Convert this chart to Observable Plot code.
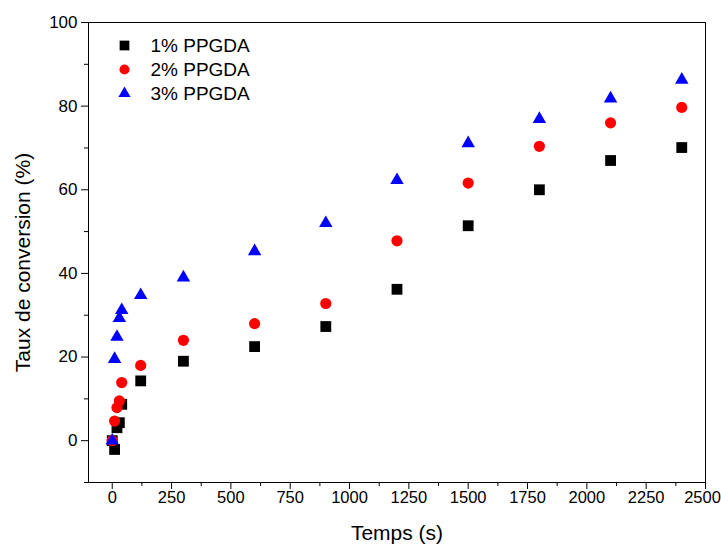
<!DOCTYPE html>
<html><head><meta charset="utf-8">
<script src="https://cdn.jsdelivr.net/npm/d3@7"></script>
<script src="https://cdn.jsdelivr.net/npm/@observablehq/plot@0.6"></script>
<style>
html,body{margin:0;padding:0;background:#fff}
#chart svg{display:block;font-family:"Liberation Sans",Arial,sans-serif}
</style>
</head><body><div id="chart"></div>
<script>
const times = [0, 10, 20, 30, 40, 120, 300, 600, 900, 1200, 1500, 1800, 2100, 2400];
const conv1 = [0, -2.1, 3.1, 4.3, 8.7, 14.3, 19.0, 22.5, 27.3, 36.2, 51.4, 60.0, 67.0, 70.1];
const conv2 = [0, 4.7, 7.9, 9.5, 13.9, 18.0, 24.0, 28.0, 32.8, 47.8, 61.6, 70.4, 76.0, 79.7];
const conv3 = [0, 19.5, 24.8, 29.3, 31.2, 34.8, 39.0, 45.3, 52.0, 62.3, 71.1, 76.9, 81.8, 86.3];
const seriesNames = ["1% PPGDA", "2% PPGDA", "3% PPGDA"];
const xMajor = [0, 250, 500, 750, 1000, 1250, 1500, 1750, 2000, 2250, 2500];
const xMinor = [125, 375, 625, 875, 1125, 1375, 1625, 1875, 2125, 2375];
const yMajor = [0, 20, 40, 60, 80, 100];
const yMinor = [-10, 10, 30, 50, 70, 90];
const xTitle = "Temps (s)";
const yTitle = "Taux de conversion (%)";

const styles = [
  {symbol: "square", fill: "#000000", r: 6.1},
  {symbol: "circle", fill: "#ff0000", r: 5.6},
  {symbol: "triangle", fill: "#0000ff", r: 5.0}
];
const allConv = [conv1, conv2, conv3];
const tables = allConv.map(vals => times.map((t, i) => ({t, v: vals[i]})));
const xLast = xMajor[xMajor.length - 1];

const marks = [];
marks.push(Plot.frame({stroke: "#000", strokeWidth: 1}));
marks.push(Plot.axisX({ticks: xMajor, tickSize: 7, tickPadding: 2, fontSize: 16.5,
  tickFormat: d => d === xLast ? "" : String(d), label: null}));
marks.push(Plot.axisX({ticks: [xLast], tickSize: 0, tickPadding: 9, dx: -3, fontSize: 16.5, tickFormat: d => String(d), label: null}));
marks.push(Plot.axisX({ticks: xMinor, tickSize: 4, tickFormat: () => "", label: null}));
marks.push(Plot.axisY({ticks: yMajor, tickSize: 7, tickPadding: 4, fontSize: 17, tickFormat: d => String(d), label: null}));
marks.push(Plot.axisY({ticks: yMinor, tickSize: 4, tickFormat: () => "", label: null}));
marks.push(Plot.text([xTitle], {frameAnchor: "bottom", dy: 51, text: d => d, fontSize: 21, lineAnchor: "middle", fill: "#000"}));
marks.push(Plot.text([yTitle], {frameAnchor: "left", dx: -65, dy: 10, rotate: -90, text: d => d, fontSize: 21, textAnchor: "middle", lineAnchor: "middle", fill: "#000"}));
tables.forEach((tab, k) => {
  marks.push(Plot.dot(tab, {x: "t", y: "v", symbol: () => styles[k].symbol, fill: styles[k].fill, r: styles[k].r, stroke: "none"}));
});
seriesNames.forEach((name, k) => {
  const dy = 23 + 24 * k;
  marks.push(Plot.dot([name], {frameAnchor: "top-left", dx: 36, dy, symbol: () => styles[k].symbol, fill: styles[k].fill, r: styles[k].r * 0.9, stroke: "none"}));
  marks.push(Plot.text([name], {frameAnchor: "top-left", dx: 62, dy, text: d => d, textAnchor: "start", lineAnchor: "middle", fontSize: 19, fill: "#000"}));
});

const chart = Plot.plot({
  width: 721, height: 547,
  marginLeft: 88, marginRight: 16, marginTop: 22, marginBottom: 65,
  style: {fontFamily: "'Liberation Sans', Arial, sans-serif", color: "#000", background: "#fff"},
  x: {domain: [-100, 2500]},
  y: {domain: [-10, 100]},
  symbol: {type: "identity"},
  marks
});
document.getElementById("chart").appendChild(chart);
</script>
</body></html>
